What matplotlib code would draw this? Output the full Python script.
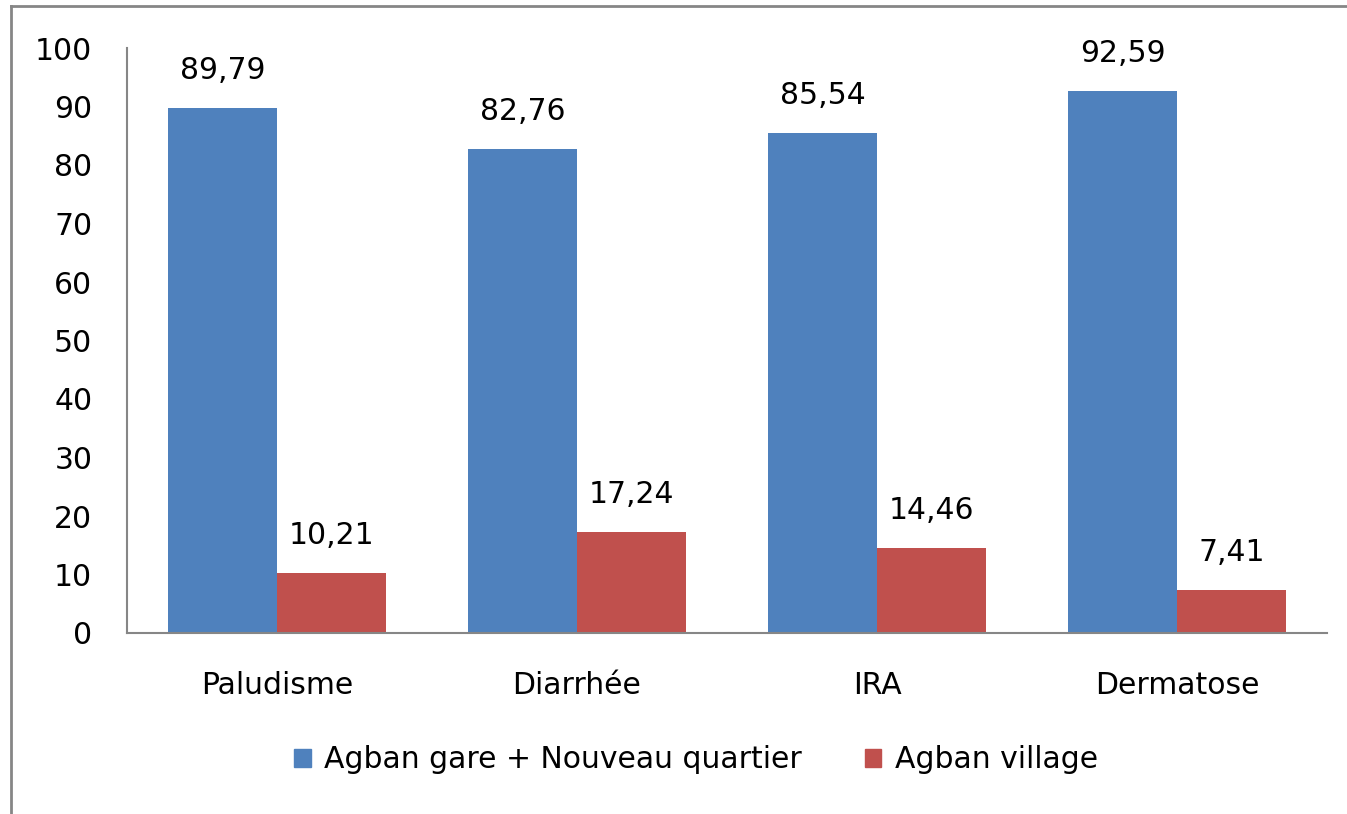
import matplotlib
matplotlib.use("Agg")
import matplotlib.pyplot as plt
from matplotlib.lines import Line2D
from matplotlib.patches import Patch
import numpy as np

categories = ["Paludisme", "Diarrhée", "IRA", "Dermatose"]
series_names = ["Agban gare + Nouveau quartier", "Agban village"]
gare_values = [89.79, 82.76, 85.54, 92.59]
village_values = [10.21, 17.24, 14.46, 7.41]
yticks = [0, 10, 20, 30, 40, 50, 60, 70, 80, 90, 100]

blue = "#4F81BD"
red = "#C0504D"
gray = "#868686"

plt.rcParams['font.family'] = ['DejaVu Sans']

W, H = 1347, 814
fig = plt.figure(figsize=(W / 100, H / 100), dpi=100)
ax = fig.add_axes([127 / W, 1 - 633 / H, 1200 / W, 585 / H])

x = np.arange(len(categories))
bw = 0.3633
b1 = ax.bar(x - bw / 2, gare_values, bw, color=blue, label=series_names[0])
b2 = ax.bar(x + bw / 2, village_values, bw, color=red, label=series_names[1])

fs = 21.5
for bars, vals in ((b1, gare_values), (b2, village_values)):
    for rect, v in zip(bars, vals):
        ax.annotate(f"{v:.2f}".replace(".", ","),
                    (rect.get_x() + rect.get_width() / 2, rect.get_height()),
                    xytext=(0, 23), textcoords="offset pixels",
                    ha="center", va="bottom", fontsize=fs, color="black")

ax.set_xlim(-0.5, len(categories) - 0.5)
ax.set_ylim(0, 100)
ax.set_yticks(yticks)
ax.set_yticklabels([str(t) for t in yticks], fontsize=fs)
ax.set_xticks(x)
ax.set_xticklabels(categories, fontsize=fs)
ax.tick_params(axis="y", length=0, pad=25)
ax.tick_params(axis="x", length=0, pad=27)
for s in ("top", "right"):
    ax.spines[s].set_visible(False)
for s in ("left", "bottom"):
    ax.spines[s].set_color(gray)
    ax.spines[s].set_linewidth(1.5)

handles = [Patch(color=blue), Patch(color=red)]
fig.legend(handles, series_names, loc="center", bbox_to_anchor=(696 / W, 1 - 760 / H),
           ncol=2, frameon=False, fontsize=fs, handlelength=0.55, handleheight=0.55,
           handletextpad=0.45, columnspacing=2.1)

fig.add_artist(Line2D([11 / W, 11 / W], [0, 1 - 6 / H], color=gray, lw=2))
fig.add_artist(Line2D([11 / W, 1], [1 - 6 / H, 1 - 6 / H], color=gray, lw=2))

fig.savefig("out.png", dpi=100)
